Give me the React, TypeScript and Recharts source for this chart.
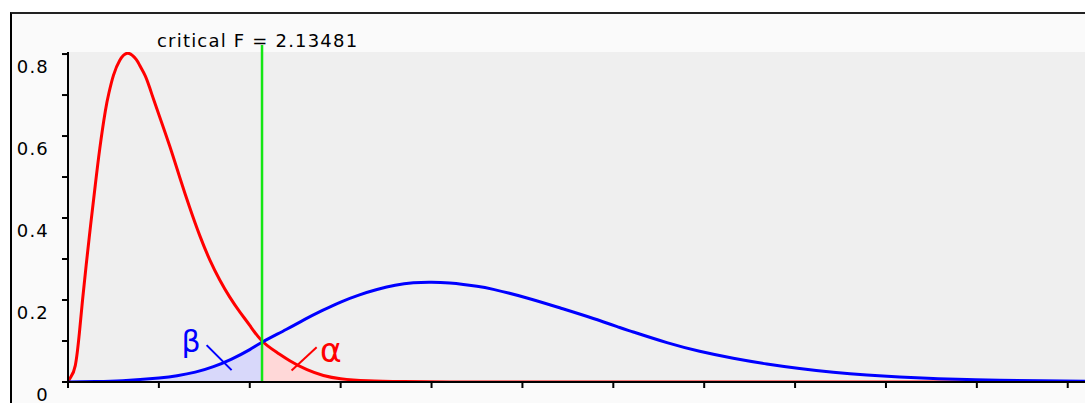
import {
  ComposedChart,
  Line,
  Area,
  XAxis,
  YAxis,
  CartesianGrid,
  ReferenceLine,
  ReferenceDot,
} from "recharts";

// critical value of the central F distribution
const criticalF = 2.13481;

// central F density (H0)
const centralF = [0, 0.03, 0.08, 0.125, 0.16, 0.2, 0.25, 0.3, 0.35, 0.41, 0.45, 0.5, 0.57, 0.66, 0.75, 0.79, 0.85, 0.9, 0.95, 1.01, 1.12, 1.23, 1.34, 1.45, 1.56, 1.67, 1.78, 1.89, 2.0, criticalF, 2.3, 2.44, 2.63, 2.81, 3.0, 3.3, 3.7, 4.2, 5, 6, 8, 11.19];
const centralDensity = [0, 0.012, 0.04, 0.119, 0.2, 0.285, 0.385, 0.48, 0.57, 0.66, 0.705, 0.748, 0.785, 0.802, 0.787, 0.772, 0.747, 0.717, 0.684, 0.646, 0.575, 0.499, 0.425, 0.357, 0.298, 0.249, 0.207, 0.171, 0.138, 0.1, 0.072, 0.052, 0.03, 0.016, 0.008, 0.003, 0.001, 0, 0, 0, 0, 0];

// noncentral F density (H1)
const noncentralF = [0, 0.3, 0.6, 1.0, 1.2, 1.4, 1.6, 1.8, 2.0, criticalF, 2.4, 2.6, 2.8, 3.0, 3.2, 3.4, 3.6, 3.8, 4.0, 4.2, 4.35, 4.5, 4.68, 5.05, 5.41, 5.78, 6.07, 6.22, 6.59, 6.95, 7.32, 7.69, 8.05, 8.42, 8.79, 9.15, 9.52, 9.89, 10.25, 10.7, 11.19];
const noncentralDensity = [0, 0.001, 0.003, 0.0095, 0.015, 0.024, 0.0375, 0.056, 0.079, 0.097, 0.128, 0.152, 0.1745, 0.195, 0.212, 0.2255, 0.236, 0.242, 0.2435, 0.2415, 0.238, 0.2335, 0.226, 0.205, 0.181, 0.155, 0.133, 0.122, 0.096, 0.075, 0.058, 0.044, 0.033, 0.024, 0.017, 0.012, 0.0085, 0.0062, 0.0045, 0.003, 0.002];

const xTicks = [0, 1, 2, 3, 4, 5, 6, 7, 8, 9, 10, 11];
const yTicks = [0, 0.1, 0.2, 0.3, 0.4, 0.5, 0.6, 0.7, 0.8];
const yTickLabels = ["0", "", "0.2", "", "0.4", "", "0.6", "", "0.8"];

const redPts = centralF.map((f, i) => ({ f, v: centralDensity[i] }));
const bluePts = noncentralF.map((f, i) => ({ f, v: noncentralDensity[i] }));
const alphaPts = redPts.filter((p) => p.f >= criticalF);
const betaPts = bluePts.filter((p) => p.f <= criticalF);

const font = "'DejaVu Sans', Verdana, sans-serif";

function YTick(props: any) {
  const { x, y, payload } = props;
  const idx = yTicks.indexOf(payload.value);
  const label = idx >= 0 ? yTickLabels[idx] : "";
  if (!label) return <g />;
  return (
    <text
      x={x - 11}
      y={y + 19}
      textAnchor="end"
      fontSize={18}
      fontFamily={font}
      fill="#000"
      style={{ letterSpacing: "1.2px" }}
    >
      {label}
    </text>
  );
}

function Glyph(props: any) {
  const { cx, cy, color, char, size } = props;
  return (
    <text x={cx} y={cy} textAnchor="middle" fontSize={size} fontFamily={font} fill={color}>
      {char}
    </text>
  );
}

export default function App() {
  return (
    <div
      style={{
        position: "absolute",
        left: 0,
        top: 0,
        width: 1085,
        height: 403,
        overflow: "hidden",
        background: "#fff",
      }}
    >
      <div
        style={{
          position: "absolute",
          left: 10,
          top: 12,
          width: 1100,
          height: 420,
          background: "#fafafa",
          borderLeft: "2px solid #000",
          borderTop: "2px solid #222",
        }}
      />
      <div
        style={{
          position: "absolute",
          left: 157,
          top: 30,
          fontFamily: font,
          fontSize: 18,
          letterSpacing: "1.2px",
          whiteSpace: "pre",
          color: "#000",
        }}
      >
        critical F = 2.13481
      </div>
      <div style={{ position: "absolute", left: 0, top: 0 }}>
        <ComposedChart
          width={1085}
          height={403}
          margin={{ top: 52, right: 0, bottom: 0, left: 0 }}
        >
          <CartesianGrid fill="#efefef" stroke="transparent" />
          <XAxis
            type="number"
            dataKey="f"
            domain={[0, 11.19]}
            ticks={xTicks}
            allowDataOverflow
            height={21}
            tickSize={6}
            tick={() => <g />}
            axisLine={{ stroke: "#000", strokeWidth: 2 }}
            tickLine={{ stroke: "#000", strokeWidth: 2 }}
          />
          <YAxis
            type="number"
            domain={[0, 0.805]}
            ticks={yTicks}
            allowDataOverflow
            width={68}
            tickSize={6}
            tick={(p: any) => <YTick {...p} />}
            axisLine={{ stroke: "#000", strokeWidth: 2 }}
            tickLine={{ stroke: "#000", strokeWidth: 2 }}
          />
          <Area
            data={betaPts}
            dataKey="v"
            type="natural"
            stroke="none"
            fill="#d8d8fa"
            fillOpacity={1}
            isAnimationActive={false}
          />
          <Area
            data={alphaPts}
            dataKey="v"
            type="natural"
            stroke="none"
            fill="#ffd8d8"
            fillOpacity={1}
            isAnimationActive={false}
          />
          <Line
            data={redPts}
            dataKey="v"
            type="natural"
            stroke="#ff0000"
            strokeWidth={3}
            dot={false}
            isAnimationActive={false}
          />
          <Line
            data={bluePts}
            dataKey="v"
            type="natural"
            stroke="#0000ff"
            strokeWidth={3}
            dot={false}
            isAnimationActive={false}
          />
          <ReferenceLine
            segment={[
              { x: criticalF, y: 0 },
              { x: criticalF, y: 0.822 },
            ]}
            ifOverflow="visible"
            stroke="#14e614"
            strokeWidth={2.5}
          />
          <ReferenceLine
            segment={[
              { x: 1.525, y: 0.09 },
              { x: 1.8, y: 0.029 },
            ]}
            stroke="#0000ff"
            strokeWidth={2}
          />
          <ReferenceLine
            segment={[
              { x: 2.46, y: 0.028 },
              { x: 2.736, y: 0.085 },
            ]}
            stroke="#ff0000"
            strokeWidth={2}
          />
          <ReferenceDot
            x={1.353}
            y={0.073}
            r={0}
            shape={(p: any) => <Glyph {...p} color="#0000ff" char="β" size={30} />}
          />
          <ReferenceDot
            x={2.893}
            y={0.049}
            r={0}
            shape={(p: any) => <Glyph {...p} color="#ff0000" char="α" size={33} />}
          />
        </ComposedChart>
      </div>
    </div>
  );
}
